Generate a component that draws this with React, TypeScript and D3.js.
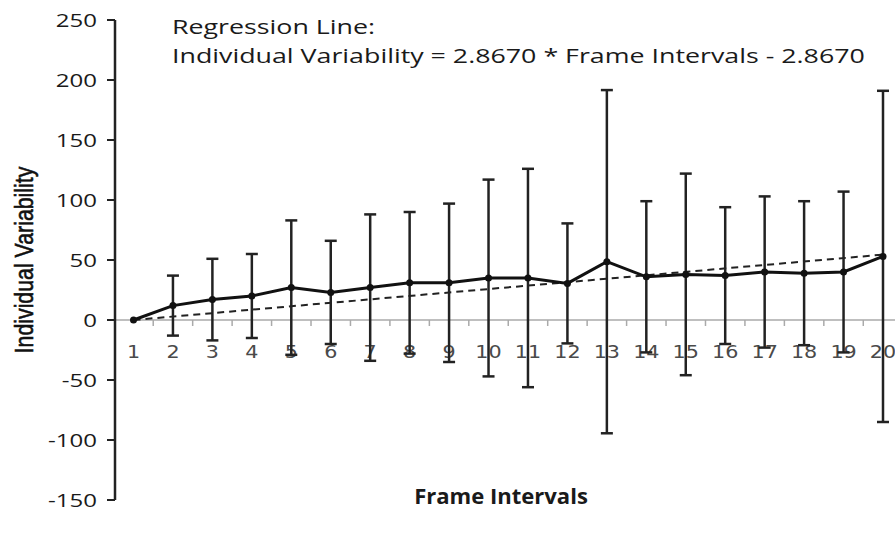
import React from "react";
import * as d3 from "d3";

const categories = ["1","2","3","4","5","6","7","8","9","10","11","12","13","14","15","16","17","18","19","20"];
const means = [0, 12, 17, 20, 27, 23, 27, 31, 31, 35, 35, 30.5, 48.6, 36, 38, 37, 40, 39, 40, 53];
const errors = [0, 25, 34, 35, 56, 43, 61, 59, 66, 82, 91, 50, 143, 63, 84, 57, 63, 60, 67, 138];
const yTicks = [250, 200, 150, 100, 50, 0, -50, -100, -150];
const slope = 2.867;
const intercept = -2.867;

export default function App() {
  const W = 895, H = 536;
  const axisX = 115;
  const x = d3.scalePoint<string>().domain(categories).range([133.5, 883]);
  const step = x.step();
  const y = d3.scaleLinear().domain([-150, 250]).range([500, 20]);
  const line = d3.line<number>().x((_, i) => x(categories[i])!).y(d => y(d));
  const regX = [1, 20];
  const regLine = d3.line<number>().x(v => x(String(v))!).y(v => y(slope * v + intercept));
  const y0 = y(0);
  return (
    <svg width={W} height={H} style={{ position: "absolute", left: 0, top: 0, background: "#fff" }}>
      {/* title */}
      <g transform={`translate(172,0) scale(1.34,1)`} fontFamily="Open Sans" fontSize={20} fill="#1a1a1a">
        <text x={0} y={34}>Regression Line:</text>
        <text x={0} y={63}>Individual Variability = 2.8670 * Frame Intervals - 2.8670</text>
      </g>
      {/* x axis line gray */}
      <line x1={axisX} x2={W} y1={y0} y2={y0} stroke="#aaa" strokeWidth={1.5} />
      {categories.map((c, i) => (
        <line key={"mt" + i} x1={x(c)! + step / 2} x2={x(c)! + step / 2} y1={y0} y2={y0 + 6} stroke="#aaa" strokeWidth={1.5} />
      ))}
      {categories.map((c) => (
        <text key={"xl" + c} transform={`translate(${x(c)},358) scale(1.15,1)`} textAnchor="middle" fontFamily="DejaVu Sans" fontSize={18} fill="#4a4a4a">{c}</text>
      ))}
      {/* y axis */}
      <line x1={axisX} x2={axisX} y1={y(250)} y2={y(-150)} stroke="#222" strokeWidth={2.5} />
      {yTicks.map(t => (
        <g key={"yt" + t}>
          <line x1={axisX - 8} x2={axisX} y1={y(t)} y2={y(t)} stroke="#222" strokeWidth={2} />
          <text transform={`translate(97,${y(t) + 6.5}) scale(1.3,1)`} textAnchor="end" fontFamily="Open Sans" fontSize={18.5} fill="#1a1a1a">{t}</text>
        </g>
      ))}
      {/* regression line */}
      <path d={regLine(regX)!} fill="none" stroke="#222" strokeWidth={2} strokeDasharray="7,5" />
      {/* error bars */}
      {categories.map((c, i) => errors[i] > 0 && (
        <g key={"eb" + c} stroke="#222" strokeWidth={2.5}>
          <line x1={x(c)} x2={x(c)} y1={y(means[i] + errors[i])} y2={y(means[i] - errors[i])} />
          <line x1={x(c)! - 6} x2={x(c)! + 6} y1={y(means[i] + errors[i])} y2={y(means[i] + errors[i])} />
          <line x1={x(c)! - 6} x2={x(c)! + 6} y1={y(means[i] - errors[i])} y2={y(means[i] - errors[i])} />
        </g>
      ))}
      {/* mean line */}
      <path d={line(means)!} fill="none" stroke="#111" strokeWidth={3} />
      {categories.map((c, i) => (
        <circle key={"pt" + c} cx={x(c)} cy={y(means[i])} r={3.5} fill="#111" />
      ))}
      {/* axis titles */}
      <text transform={`translate(33,260) rotate(-90) scale(0.82,1)`} textAnchor="middle" fontFamily="Liberation Sans" fontSize={26} fill="#111" stroke="#111" strokeWidth={0.6}>Individual Variability</text>
      <text transform={`translate(501,504) scale(1.05,1)`} textAnchor="middle" fontFamily="Open Sans" fontWeight="bold" fontSize={21} fill="#1a1a1a">Frame Intervals</text>
    </svg>
  );
}
